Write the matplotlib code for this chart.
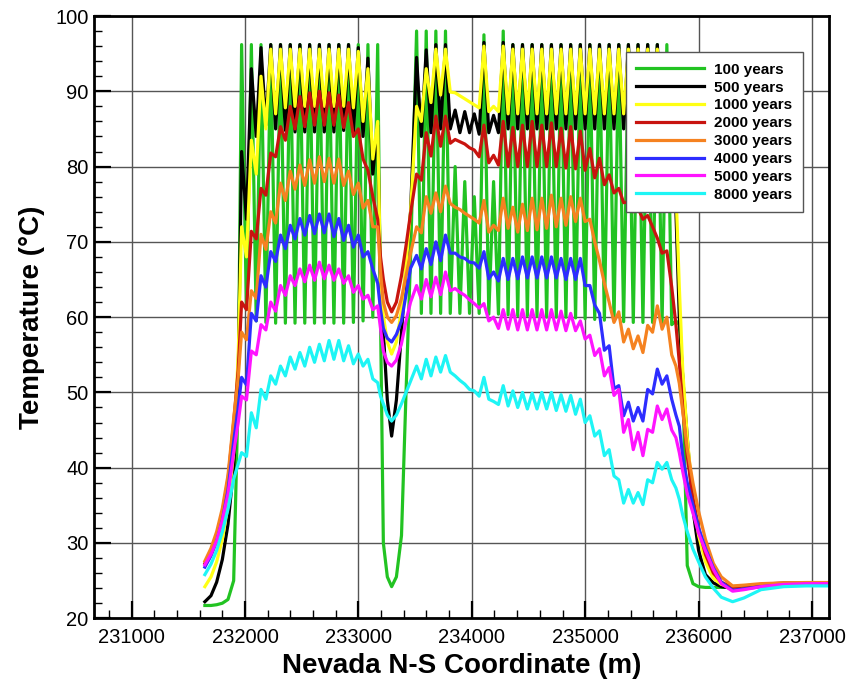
import matplotlib
matplotlib.use('Agg')
import matplotlib.pyplot as plt
from matplotlib.ticker import MultipleLocator

plt.rcParams['font.family'] = ['Liberation Sans', 'DejaVu Sans']

# ---------------- shared x positions (m) ----------------
X_TAIL_L = [231646, 231700, 231750, 231800, 231850, 231900, 231940]
X_PK_L = [231970, 232056, 232141, 232227, 232313, 232399, 232484, 232570,
          232656, 232741, 232827, 232913, 232999, 233084, 233170]
X_TR_L = [232013, 232099, 232184, 232270, 232356, 232441, 232527, 232613,
          232699, 232784, 232870, 232956, 233041, 233127]
X_DIP = [233195, 233220, 233255, 233293, 233335, 233380, 233420, 233460]
X_PK_R = [233513, 233598, 233683, 233768, 233853, 233938, 234022, 234107,
          234192, 234277, 234362, 234447, 234532, 234617, 234702, 234787,
          234872, 234957, 235041, 235126, 235211, 235296, 235381, 235466,
          235551, 235636, 235720]
X_TR_R = [233555, 233640, 233725, 233810, 233895, 233980, 234065, 234150,
          234235, 234320, 234405, 234490, 234575, 234660, 234745, 234830,
          234915, 234999, 235084, 235169, 235254, 235339, 235424, 235509,
          235594, 235678]
X_TAIL_R = [235763, 235800, 235830, 235860, 235900, 235950, 236000, 236060,
            236130, 236200, 236300, 236400, 236550, 236750, 236950, 237150]

# ---------------- temperatures (deg C) ----------------
# each: (left tail, left peaks, left troughs, dip, right peaks, right troughs, right tail)
T100 = (
    [21.7, 21.7, 21.8, 22.0, 22.5, 25.0, 50.0],
    [96.2, 96.2, 96.2, 96.2, 96.2, 96.2, 96.2, 96.2, 96.2, 96.2, 96.2, 96.2, 96.2, 96.2, 96.2],
    [61.0, 59.5, 59.3, 59.2, 59.2, 59.2, 59.2, 59.2, 59.2, 59.2, 59.2, 59.3, 59.5, 60.0],
    [60.0, 30.0, 25.5, 24.2, 25.5, 31.0, 50.0, 68.0],
    [98.0, 98.0, 98.0, 98.0, 80.0, 78.0, 76.0, 97.5, 78.0, 98.0,
     96.2, 96.2, 96.2, 96.2, 96.2, 96.2, 96.2, 96.2, 96.2, 96.2,
     96.2, 96.2, 96.2, 96.2, 96.2, 96.2, 96.2],
    [60.5, 60.5, 60.5, 60.5, 60.5, 60.5, 60.5, 60.4, 60.4, 60.3,
     60.2, 60.2, 60.1, 60.0, 60.0, 60.0, 59.9, 59.8, 59.7, 59.6,
     59.5, 59.4, 59.3, 59.3, 59.3, 59.2],
    [59.0, 59.5, 59.0, 52.0, 27.0, 24.6, 24.2, 24.1, 24.1, 24.1, 24.1, 24.2, 24.3, 24.4, 24.5, 24.5],
)
T500 = (
    [22.2, 23.0, 24.8, 27.8, 32.5, 40.0, 52.0],
    [82.0, 93.0, 95.8, 96.2, 96.2, 96.2, 96.2, 96.2, 96.2, 96.2, 96.2, 96.2, 95.8, 94.4, 85.5],
    [73.0, 84.0, 85.5, 85.0, 84.8, 84.6, 84.6, 84.6, 84.6, 84.6, 84.8, 84.5, 84.0, 79.0],
    [64.0, 58.0, 49.0, 44.2, 49.0, 58.0, 66.5, 74.0],
    [94.5, 95.5, 96.2, 96.2, 87.5, 87.3, 87.0, 96.5, 86.8, 96.5,
     96.2, 96.2, 96.2, 96.2, 96.2, 96.2, 96.2, 96.2, 96.2, 96.2,
     96.2, 96.2, 96.2, 96.2, 96.2, 96.2, 91.0],
    [84.0, 84.5, 85.0, 85.0, 84.5, 84.5, 84.3, 84.5, 84.5, 85.0,
     85.0, 85.0, 85.0, 85.0, 85.0, 85.0, 85.0, 85.0, 85.0, 85.0,
     85.0, 85.0, 85.0, 85.0, 85.0, 84.0],
    [83.0, 74.0, 60.0, 52.0, 44.0, 34.5, 29.0, 25.8, 24.7, 24.2, 24.0, 24.2, 24.4, 24.6, 24.6, 24.6],
)
T1000 = (
    [24.2, 25.5, 27.5, 30.5, 35.0, 42.0, 55.0],
    [72.0, 83.5, 92.0, 95.6, 95.6, 95.6, 95.6, 95.6, 95.6, 95.6, 95.6, 95.6, 95.3, 93.0, 86.0],
    [68.0, 79.0, 85.0, 87.0, 87.8, 88.0, 88.0, 88.0, 88.0, 88.0, 88.0, 87.8, 86.0, 81.0],
    [65.0, 60.2, 56.7, 55.1, 56.7, 61.0, 67.0, 74.0],
    [88.0, 93.0, 95.6, 95.6, 89.8, 89.0, 88.2, 96.0, 88.0, 96.0,
     95.6, 95.6, 95.6, 95.6, 95.6, 95.6, 95.6, 95.6, 95.6, 95.6,
     95.6, 95.6, 95.6, 95.6, 95.6, 95.6, 92.0],
    [86.0, 88.5, 89.5, 89.9, 89.4, 88.6, 87.8, 87.3, 87.3, 87.0,
     87.0, 87.0, 87.0, 87.0, 87.0, 87.0, 87.0, 87.0, 87.0, 87.0,
     87.0, 87.0, 87.0, 87.0, 87.0, 86.0],
    [86.0, 77.0, 64.0, 53.0, 44.0, 36.0, 31.0, 27.5, 25.3, 24.5, 24.1, 24.3, 24.5, 24.6, 24.6, 24.6],
)
T2000 = (
    [27.3, 29.0, 31.0, 34.0, 38.5, 46.0, 53.0],
    [62.0, 71.4, 77.1, 81.8, 85.3, 88.0, 89.3, 89.8, 90.0, 89.8, 89.5, 88.5, 85.0, 79.5, 73.0],
    [61.0, 70.4, 76.2, 81.3, 83.5, 85.0, 85.3, 85.5, 85.5, 85.5, 85.2, 84.0, 81.0, 76.0],
    [68.0, 65.0, 62.0, 60.7, 62.0, 65.5, 69.5, 73.8],
    [79.0, 84.5, 86.7, 86.7, 83.6, 83.0, 82.2, 85.5, 81.5, 86.0,
     85.2, 85.5, 86.0, 85.5, 85.8, 85.1, 85.3, 84.7, 82.4, 81.1,
     78.9, 77.1, 75.3, 74.5, 73.5, 70.5, 68.8],
    [78.2, 81.4, 82.7, 83.1, 83.3, 82.5, 81.3, 80.5, 80.2, 80.0,
     80.0, 80.0, 80.0, 80.0, 80.0, 79.8, 79.7, 79.5, 78.5, 77.6,
     76.5, 75.2, 74.0, 73.0, 72.0, 68.5],
    [64.0, 59.0, 54.0, 48.0, 41.5, 36.0, 32.0, 28.5, 26.0, 24.8, 24.1, 24.3, 24.5, 24.7, 24.7, 24.7],
)
T3000 = (
    [27.6, 29.3, 31.5, 34.6, 39.0, 46.5, 52.0],
    [58.0, 63.5, 71.0, 74.0, 77.8, 79.4, 80.2, 80.9, 81.3, 81.1, 81.0, 79.4, 77.8, 75.5, 72.0],
    [57.0, 62.5, 69.0, 72.5, 75.5, 77.0, 77.5, 77.8, 78.0, 77.8, 77.5, 76.3, 74.5, 72.0],
    [66.0, 62.0, 60.0, 59.3, 60.2, 62.5, 65.5, 68.5],
    [72.0, 76.0, 76.5, 77.4, 74.6, 73.8, 73.0, 75.5, 72.2, 75.8,
     74.6, 75.0, 75.8, 75.8, 76.2, 75.8, 76.0, 75.8, 73.0, 67.5,
     62.0, 60.7, 58.4, 57.5, 58.9, 61.5, 60.0],
    [71.2, 73.8, 74.0, 75.1, 74.3, 73.4, 72.5, 71.3, 71.5, 71.8,
     71.3, 71.5, 71.6, 71.8, 72.0, 72.2, 72.7, 72.7, 70.0, 64.5,
     59.3, 56.7, 55.8, 55.3, 58.0, 58.4],
    [55.0, 53.5, 51.2, 47.5, 42.5, 38.0, 34.2, 30.5, 27.3, 25.5, 24.3, 24.4, 24.6, 24.7, 24.75, 24.75],
)
T4000 = (
    [26.8, 28.3, 30.2, 33.0, 37.0, 43.5, 48.0],
    [52.0, 60.5, 65.5, 68.7, 70.9, 72.2, 73.1, 73.5, 73.7, 73.7, 73.1, 72.2, 70.9, 68.7, 64.5],
    [51.0, 59.5, 64.0, 67.4, 69.1, 70.4, 70.9, 71.1, 71.2, 70.7, 70.2, 69.3, 68.0, 66.4],
    [61.0, 58.5, 57.2, 56.7, 57.7, 59.5, 63.0, 66.5],
    [68.2, 69.1, 70.0, 70.9, 68.5, 67.8, 67.2, 68.7, 66.0, 67.8,
     67.8, 68.0, 68.0, 68.0, 68.0, 67.8, 67.8, 67.8, 64.2, 60.5,
     56.2, 50.9, 48.7, 48.0, 50.4, 53.1, 52.2],
    [66.4, 67.0, 67.5, 68.5, 68.0, 67.3, 66.5, 65.1, 64.8, 65.0,
     65.1, 65.2, 65.2, 65.2, 65.2, 65.0, 65.0, 64.2, 61.6, 55.6,
     50.5, 46.9, 46.2, 46.2, 49.8, 51.1],
    [49.1, 47.0, 45.5, 41.5, 38.0, 35.0, 32.0, 29.3, 26.7, 24.8, 23.7, 23.9, 24.2, 24.4, 24.5, 24.5],
)
T5000 = (
    [27.1, 28.5, 30.3, 33.0, 36.5, 42.0, 46.0],
    [49.5, 55.5, 59.0, 62.0, 64.2, 65.5, 66.4, 66.9, 67.3, 66.9, 66.4, 65.5, 64.2, 62.9, 61.5],
    [49.0, 55.0, 58.3, 60.8, 62.9, 64.2, 64.7, 64.9, 65.1, 64.9, 64.5, 63.3, 62.4, 61.0],
    [58.5, 55.5, 54.0, 53.5, 54.3, 56.5, 59.5, 62.0],
    [64.2, 65.0, 65.3, 66.0, 63.8, 62.9, 61.8, 61.8, 60.0, 61.0,
     61.0, 61.0, 61.0, 61.0, 61.0, 60.8, 60.5, 59.5, 57.6, 55.8,
     53.3, 50.4, 46.4, 44.7, 45.1, 48.2, 47.8],
    [62.4, 62.7, 63.0, 63.5, 63.3, 62.3, 61.2, 59.5, 58.5, 58.4,
     58.3, 58.3, 58.3, 58.3, 58.3, 58.2, 58.2, 57.1, 54.9, 52.2,
     49.6, 44.7, 42.4, 41.6, 44.7, 46.4],
    [45.0, 44.0, 42.0, 39.5, 36.5, 34.0, 31.3, 29.0, 26.5, 24.6, 23.6, 23.8, 24.2, 24.5, 24.6, 24.6],
)
T8000 = (
    [25.8, 27.2, 29.0, 31.5, 34.5, 38.5, 40.5],
    [42.0, 47.3, 50.4, 52.2, 53.5, 54.7, 55.3, 56.0, 56.4, 56.9, 56.9, 56.2, 55.1, 54.4, 51.3],
    [41.5, 45.3, 49.1, 51.1, 52.2, 53.1, 53.5, 54.0, 54.2, 54.4, 54.2, 53.8, 53.5, 51.8],
    [49.5, 48.5, 47.0, 46.2, 47.0, 48.5, 50.0, 51.5],
    [53.5, 54.4, 54.7, 54.9, 52.2, 51.1, 50.2, 52.0, 48.8, 50.9,
     50.2, 50.0, 49.9, 50.0, 50.0, 49.7, 49.6, 49.1, 46.9, 44.9,
     42.4, 38.4, 37.1, 36.7, 38.4, 40.7, 40.7],
    [51.8, 52.2, 52.7, 52.7, 51.6, 50.4, 49.5, 49.1, 48.4, 48.2,
     48.0, 47.8, 47.8, 47.8, 47.6, 47.5, 47.1, 46.0, 44.2, 41.6,
     38.9, 35.3, 35.3, 35.1, 38.0, 39.8],
    [38.4, 37.3, 35.8, 33.7, 31.5, 29.2, 27.5, 25.5, 24.0, 22.8, 22.2, 22.7, 23.8, 24.2, 24.3, 24.3],
)

LABELS = ['100 years', '500 years', '1000 years', '2000 years',
          '3000 years', '4000 years', '5000 years', '8000 years']
COLORS = ['#22c322', '#000000', '#ffff14', '#c8140f',
          '#f58220', '#2d2dff', '#ff14ff', '#1ef5f5']
DATA = [T100, T500, T1000, T2000, T3000, T4000, T5000, T8000]


def interleave(p, t):
    out = []
    for i in range(len(t)):
        out += [p[i], t[i]]
    out.append(p[-1])
    return out


def build(parts):
    tl, pl, trl, dp, pr, trr, tr = parts
    return tl + interleave(pl, trl) + dp + interleave(pr, trr) + tr


X = build((X_TAIL_L, X_PK_L, X_TR_L, X_DIP, X_PK_R, X_TR_R, X_TAIL_R))

fig = plt.figure(figsize=(8.55, 6.81), dpi=100)
ax = fig.add_axes([0.1099, 0.0921, 0.8593, 0.8844])

for lab, col, d in zip(LABELS, COLORS, DATA):
    y = build(d)
    ax.plot(X, y, color=col, lw=2.3, label=lab, solid_joinstyle='round')

ax.set_xlim(230668, 237147)
ax.set_ylim(20, 100)
ax.set_xticks(range(231000, 237001, 1000))
ax.set_yticks(range(20, 101, 10))
ax.xaxis.set_minor_locator(MultipleLocator(200))
ax.yaxis.set_minor_locator(MultipleLocator(2))
ax.tick_params(which='major', direction='in', length=12, width=1.6,
               labelsize=14.5)
ax.tick_params(which='minor', direction='in', length=6, width=1.0)
ax.tick_params(axis='x', which='major', pad=7)
ax.tick_params(axis='y', which='major', pad=4)
ax.grid(which='major', color='#555555', linewidth=1.0)
ax.set_axisbelow(True)
for s in ax.spines.values():
    s.set_linewidth(2.0)

ax.set_xlabel('Nevada N-S Coordinate (m)', fontsize=20, fontweight='bold',
              labelpad=4)
ax.set_ylabel('Temperature (°C)', fontsize=20, fontweight='bold',
              labelpad=7)

leg = ax.legend(loc='upper left', bbox_to_anchor=(0.7237, 0.940),
                borderaxespad=0, fancybox=False, framealpha=1,
                edgecolor='#555555', handlelength=4.4, handletextpad=0.7,
                labelspacing=0.25, borderpad=0.7,
                prop={'weight': 'bold', 'size': 11.0})
leg.get_frame().set_linewidth(1.0)

fig.savefig('out.png', dpi=100)
